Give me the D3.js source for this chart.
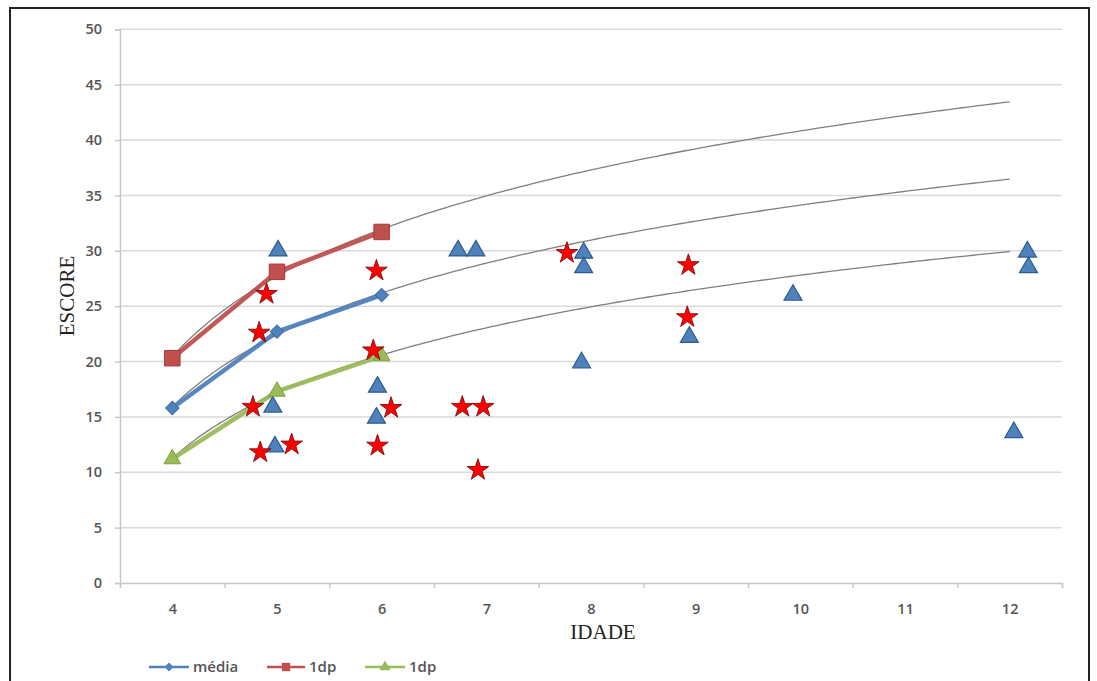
<!DOCTYPE html>
<html>
<head>
<meta charset="utf-8">
<script src="https://cdn.jsdelivr.net/npm/d3@7/dist/d3.min.js"></script>
<style>
  html, body { margin: 0; padding: 0; background: #fff; }
  svg { display: block; }
</style>
</head>
<body>
<svg id="chart" width="1097" height="681"></svg>
<script>
// ---- data ----
const xCategories = [4, 5, 6, 7, 8, 9, 10, 11, 12];
const yTickValues = [0, 5, 10, 15, 20, 25, 30, 35, 40, 45, 50];
const seriesX = [4, 5, 6];
const mediaY = [15.8, 22.7, 26.0];
const dpUpperY = [20.3, 28.1, 31.7];
const dpLowerY = [11.2, 17.3, 20.5];
const trendEndX = 12;
const triangleX = [5.01, 4.96, 4.98, 5.96, 5.95, 6.73, 6.90, 7.93, 7.93, 7.91, 8.94, 9.93, 12.17, 12.18, 12.04];
const triangleY = [30.0, 15.9, 12.3, 17.7, 14.9, 30.0, 30.0, 29.8, 28.5, 19.9, 22.2, 26.0, 29.9, 28.5, 13.6];
const starX = [4.90, 4.83, 4.77, 4.84, 5.14, 5.95, 5.92, 6.09, 5.96, 6.77, 6.97, 6.92, 7.77, 8.93, 8.92];
const starY = [26.1, 22.6, 15.9, 11.8, 12.5, 28.2, 21.0, 15.8, 12.4, 15.9, 15.9, 10.2, 29.8, 28.7, 24.0];
const legendLabels = ["média", "1dp", "1dp"];

(function () {
// ---- layout ----
const svg = d3.select("#chart");
const pLeft = 120, pRight = 1062, pTop = 29.3, pBottom = 583;
const x = d3.scaleLinear().domain([3.5, 12.5]).range([pLeft, pRight]);
const y = d3.scaleLinear().domain([0, 50]).range([pBottom, pTop]);
const tickFont = "'Open Sans', sans-serif";

// outer border
svg.append("rect").attr("x", 10).attr("y", 8).attr("width", 1079).attr("height", 690)
  .attr("fill", "none").attr("stroke", "#222").attr("stroke-width", 2);

// gridlines
svg.append("g").selectAll("line").data(yTickValues.filter(v => v > 0)).join("line")
  .attr("x1", pLeft).attr("x2", pRight)
  .attr("y1", d => y(d)).attr("y2", d => y(d))
  .attr("stroke", "#d9d9d9").attr("stroke-width", 1.5);

// y axis
const yAxis = svg.append("g").attr("transform", `translate(${pLeft},0)`)
  .call(d3.axisLeft(y).tickValues(yTickValues).tickSize(5).tickPadding(13));
yAxis.select(".domain").attr("stroke", "#c8c8c8").attr("stroke-width", 1.5);
yAxis.selectAll(".tick line").attr("stroke", "#c8c8c8").attr("stroke-width", 1.5);
yAxis.selectAll("text").attr("font-family", tickFont).attr("font-size", 14.5)
  .attr("fill", "#555").attr("font-weight", 600);

// x axis: tick marks at category boundaries, labels at category centers
const boundaries = d3.range(xCategories.length + 1).map(i => xCategories[0] - 0.5 + i);
const xAxisMarks = svg.append("g").attr("transform", `translate(0,${pBottom})`)
  .call(d3.axisBottom(x).tickValues(boundaries).tickSize(5).tickFormat(""));
xAxisMarks.select(".domain").attr("stroke", "#c8c8c8").attr("stroke-width", 1.5);
xAxisMarks.selectAll(".tick line").attr("stroke", "#c8c8c8").attr("stroke-width", 1.5);
const xAxisLabels = svg.append("g").attr("transform", `translate(0,${pBottom})`)
  .call(d3.axisBottom(x).tickValues(xCategories).tickSize(0).tickPadding(21).tickFormat(d3.format("d")));
xAxisLabels.select(".domain").remove();
xAxisLabels.selectAll("text").attr("font-family", tickFont).attr("font-size", 14.5)
  .attr("fill", "#555").attr("font-weight", 600);

// axis titles
svg.append("text").attr("x", 603).attr("y", 639).attr("text-anchor", "middle")
  .attr("font-family", "'Liberation Serif', 'DejaVu Serif', serif").attr("font-size", 21)
  .attr("fill", "#222").text("IDADE");
svg.append("text").attr("transform", "translate(74,296) rotate(-90)").attr("text-anchor", "middle")
  .attr("font-family", "'Liberation Serif', 'DejaVu Serif', serif").attr("font-size", 21)
  .attr("fill", "#222").text("ESCORE");

// logarithmic trend lines (least-squares fit on category index)
function logFit(xs, ys) {
  const lx = xs.map(v => Math.log(v - xCategories[0] + 1));
  const mx = d3.mean(lx), my = d3.mean(ys);
  const b = d3.sum(lx.map((v, i) => (v - mx) * (ys[i] - my))) / d3.sum(lx.map(v => (v - mx) ** 2));
  const a = my - b * mx;
  return v => a + b * Math.log(v - xCategories[0] + 1);
}
const trendGroup = svg.append("g");
[dpUpperY, mediaY, dpLowerY].forEach(ys => {
  const f = logFit(seriesX, ys);
  const pts = d3.range(seriesX[0], trendEndX + 0.0001, 0.05).map(v => [x(v), y(f(v))]);
  trendGroup.append("path").attr("d", d3.line()(pts))
    .attr("fill", "none").attr("stroke", "#7f7f7f").attr("stroke-width", 1.3);
});

// series lines
const series = [
  { ys: dpUpperY, color: "#C0504D", stroke: "#A33B38", symbol: d3.symbolSquare, size: 240, rot: 0 },
  { ys: mediaY, color: "#4F81BD", stroke: "#3A6BA5", symbol: d3.symbolSquare, size: 90, rot: 45 },
  { ys: dpLowerY, color: "#9BBB59", stroke: "#7FA03E", symbol: d3.symbolTriangle, size: 120, rot: 0 }
];
const lineGen = d3.line().x(d => x(d[0])).y(d => y(d[1]));
series.forEach(s => {
  const data = seriesX.map((v, i) => [v, s.ys[i]]);
  svg.append("path").attr("d", lineGen(data)).attr("fill", "none")
    .attr("stroke", s.color).attr("stroke-width", 4.5).attr("stroke-linejoin", "round").attr("opacity", 0.95);
});

// scatter: triangles
svg.append("g").selectAll("path").data(triangleX.map((v, i) => [v, triangleY[i]])).join("path")
  .attr("d", d3.symbol(d3.symbolTriangle, 140))
  .attr("transform", d => `translate(${x(d[0])},${y(d[1])})`)
  .attr("fill", "#4F81BD").attr("stroke", "#2E5C8F").attr("stroke-width", 1.2);

// series markers
series.forEach(s => {
  svg.append("g").selectAll("path").data(seriesX.map((v, i) => [v, s.ys[i]])).join("path")
    .attr("d", d3.symbol(s.symbol, s.size))
    .attr("transform", d => `translate(${x(d[0])},${y(d[1])}) rotate(${s.rot})`)
    .attr("fill", s.color).attr("stroke", s.stroke).attr("stroke-width", 1);
});

// scatter: stars
svg.append("g").selectAll("path").data(starX.map((v, i) => [v, starY[i]])).join("path")
  .attr("d", d3.symbol(d3.symbolStar, 145))
  .attr("transform", d => `translate(${x(d[0])},${y(d[1])})`)
  .attr("fill", "#FF0000").attr("stroke", "#7a1010").attr("stroke-width", 0.9);

// legend
const legendItems = [
  { x0: 149, x1: 189, tx: 193, color: "#4F81BD", symbol: d3.symbolSquare, size: 40, rot: 45 },
  { x0: 267, x1: 305, tx: 309, color: "#C0504D", symbol: d3.symbolSquare, size: 70, rot: 0 },
  { x0: 365, x1: 405, tx: 409, color: "#9BBB59", symbol: d3.symbolTriangle, size: 55, rot: 0 }
];
const ly = 667;
legendItems.forEach((it, i) => {
  const g = svg.append("g");
  g.append("line").attr("x1", it.x0).attr("x2", it.x1).attr("y1", ly).attr("y2", ly)
    .attr("stroke", it.color).attr("stroke-width", 2.5);
  g.append("path").attr("d", d3.symbol(it.symbol, it.size))
    .attr("transform", `translate(${(it.x0 + it.x1) / 2},${ly}) rotate(${it.rot})`).attr("fill", it.color);
  g.append("text").attr("x", it.tx).attr("y", ly + 5)
    .attr("font-family", tickFont).attr("font-size", 15).attr("font-weight", 600)
    .attr("fill", "#555").text(legendLabels[i]);
});
})();
</script>
</body>
</html>
